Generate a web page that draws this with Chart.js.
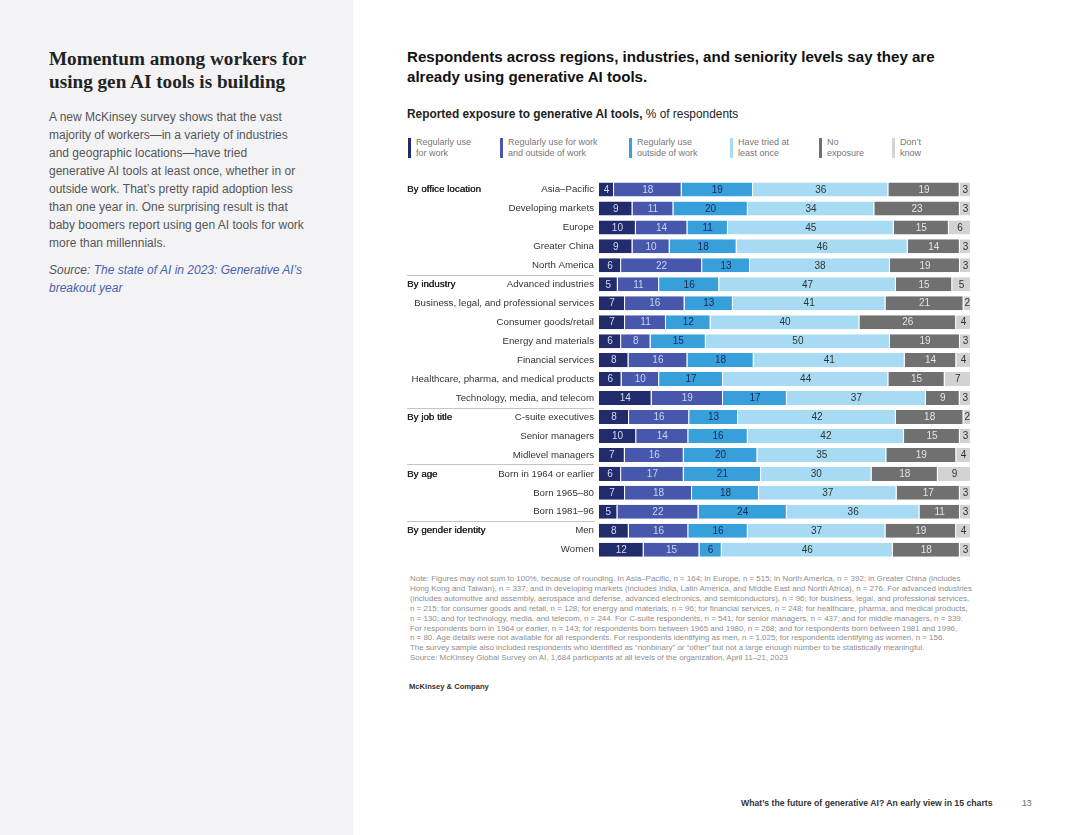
<!DOCTYPE html>
<html>
<head>
<meta charset="utf-8">
<script src="https://cdn.jsdelivr.net/npm/chart.js@4.4.0/dist/chart.umd.min.js"></script>
<style>
  body { margin: 0; width: 1080px; height: 835px; background: #fff; position: relative; overflow: hidden;
         font-family: "Liberation Sans", Arial, sans-serif; color: #222; }
  .abs { position: absolute; white-space: nowrap; }
  #side { position: absolute; left: 0; top: 0; width: 353px; height: 835px; background: #f3f3f5; }
  #side h1 { position: absolute; left: 49px; top: 47px; margin: 0; font-family: "Liberation Serif", serif;
             font-weight: bold; font-size: 19.2px; line-height: 23px; color: #222; white-space: nowrap; }
  #side .body { position: absolute; left: 49px; top: 108px; font-size: 12px; line-height: 18px; color: #555; white-space: nowrap; }
  #side .src { position: absolute; left: 49px; top: 261px; font-size: 12px; line-height: 18px; color: #555; font-style: italic; white-space: nowrap; }
  #side .src span { color: #4a5fae; }
  .title { left: 407px; top: 47px; font-size: 15.1px; font-weight: bold; line-height: 20px; color: #111; }
  .subtitle { left: 407px; top: 107px; font-size: 11.9px; color: #222; }
  .legend { top: 137px; font-size: 9px; line-height: 11px; color: #777; padding-left: 8px; }
  .legend i { position: absolute; left: 0; top: 1px; width: 3px; height: 20px; }
  .note { left: 410px; top: 574px; font-size: 7.95px; line-height: 9.9px; color: #8e8e8e; }
  .brand { left: 409px; top: 682px; font-size: 7.6px; font-weight: bold; color: #333; }
  .foot { left: 741px; top: 798px; font-size: 8.7px; font-weight: bold; color: #333; }
  .page { left: 1022px; top: 798px; font-size: 8.5px; color: #666; }
  #wrap { position: absolute; left: 400px; top: 0px; width: 580px; height: 570px; }
</style>
</head>
<body>
<div id="side">
  <h1>Momentum among workers for<br>using gen AI tools is building</h1>
  <div class="body">A new McKinsey survey shows that the vast<br>majority of workers—in a variety of industries<br>and geographic locations—have tried<br>generative AI tools at least once, whether in or<br>outside work. That’s pretty rapid adoption less<br>than one year in. One surprising result is that<br>baby boomers report using gen AI tools for work<br>more than millennials.</div>
  <div class="src">Source: <span>The state of AI in 2023: Generative AI’s<br>breakout year</span></div>
</div>

<div class="abs title">Respondents across regions, industries, and seniority levels say they are<br>already using generative AI tools.</div>
<div class="abs subtitle"><b>Reported exposure to generative AI tools,</b> % of respondents</div>
<div id="legend"></div>

<div id="wrap"><canvas id="chart"></canvas></div>

<div class="abs note">Note: Figures may not sum to 100%, because of rounding. In Asia–Pacific, n = 164; in Europe, n = 515; in North America, n = 392; in Greater China (includes<br>Hong Kong and Taiwan), n = 337; and in developing markets (includes India, Latin America, and Middle East and North Africa), n = 276. For advanced industries<br>(includes automotive and assembly, aerospace and defense, advanced electronics, and semiconductors), n = 96; for business, legal, and professional services,<br>n = 215; for consumer goods and retail, n = 128; for energy and materials, n = 96; for financial services, n = 248; for healthcare, pharma, and medical products,<br>n = 130; and for technology, media, and telecom, n = 244. For C-suite respondents, n = 541; for senior managers, n = 437; and for middle managers, n = 339.<br>For respondents born in 1964 or earlier, n = 143; for respondents born between 1965 and 1980, n = 268; and for respondents born between 1981 and 1996,<br>n = 80. Age details were not available for all respondents. For respondents identifying as men, n = 1,025; for respondents identifying as women, n = 156.<br>The survey sample also included respondents who identified as “nonbinary” or “other” but not a large enough number to be statistically meaningful.<br>Source: McKinsey Global Survey on AI, 1,684 participants at all levels of the organization, April 11–21, 2023</div>
<div class="abs brand">McKinsey &amp; Company</div>
<div class="abs foot">What’s the future of generative AI? An early view in 15 charts</div>
<div class="abs page">13</div>

<script>
// Chart data
const categories = [
  'Asia–Pacific', 'Developing markets', 'Europe', 'Greater China', 'North America',
  'Advanced industries', 'Business, legal, and professional services', 'Consumer goods/retail',
  'Energy and materials', 'Financial services', 'Healthcare, pharma, and medical products',
  'Technology, media, and telecom', 'C-suite executives', 'Senior managers', 'Midlevel managers',
  'Born in 1964 or earlier', 'Born 1965–80', 'Born 1981–96', 'Men', 'Women'
];
const groupLabels = ['By office location', 'By industry', 'By job title', 'By age', 'By gender identity'];
const groupStarts = [0, 5, 12, 15, 18];

const seriesNames = [
  'Regularly use\nfor work', 'Regularly use for work\nand outside of work', 'Regularly use\noutside of work',
  'Have tried at\nleast once', 'No\nexposure', 'Don’t\nknow'
];
const regularWork    = [4, 9, 10, 9, 6, 5, 7, 7, 6, 8, 6, 14, 8, 10, 7, 6, 7, 5, 8, 12];
const regularBoth    = [18, 11, 14, 10, 22, 11, 16, 11, 8, 16, 10, 19, 16, 14, 16, 17, 18, 22, 16, 15];
const regularOutside = [19, 20, 11, 18, 13, 16, 13, 12, 15, 18, 17, 17, 13, 16, 20, 21, 18, 24, 16, 6];
const triedOnce      = [36, 34, 45, 46, 38, 47, 41, 40, 50, 41, 44, 37, 42, 42, 35, 30, 37, 36, 37, 46];
const noExposure     = [19, 23, 15, 14, 19, 15, 21, 26, 19, 14, 15, 9, 18, 15, 19, 18, 17, 11, 19, 18];
const dontKnow       = [3, 3, 6, 3, 3, 5, 2, 4, 3, 4, 7, 3, 2, 3, 4, 9, 3, 3, 4, 3];

const series = [regularWork, regularBoth, regularOutside, triedOnce, noExposure, dontKnow];
const colors = ['#222b6c', '#4657ac', '#37a0da', '#a6dbf3', '#707070', '#d2d2d2'];
const textColors = ['#d5d9ee', '#cdd3f0', '#1d2755', '#333333', '#e4e4e4', '#333333'];

// Legend
const legendX = [408, 500, 629, 730, 819, 892];
const legendEl = document.getElementById('legend');
seriesNames.forEach((name, i) => {
  const d = document.createElement('div');
  d.className = 'abs legend';
  d.style.left = legendX[i] + 'px';
  d.innerHTML = `<i style="background:${colors[i]}"></i>` + name.replace('\n', '<br>');
  legendEl.appendChild(d);
});

// bars stretch to full width, so scale each row to 100
const rowTotals = categories.map((_, r) => series.reduce((s, arr) => s + arr[r], 0));

const segmentLabels = {
  id: 'segmentLabels',
  afterDatasetsDraw(chart) {
    const ctx = chart.ctx;
    ctx.save();
    ctx.font = '10px "Liberation Sans", Arial, sans-serif';
    ctx.textAlign = 'center';
    ctx.textBaseline = 'middle';
    chart.data.datasets.forEach((ds, i) => {
      chart.getDatasetMeta(i).data.forEach((bar, j) => {
        ctx.fillStyle = textColors[i];
        ctx.fillText(series[i][j], (bar.x + bar.base) / 2, bar.y + 0.5);
      });
    });
    ctx.restore();
  }
};

const groupHeaders = {
  id: 'groupHeaders',
  afterDraw(chart) {
    const ctx = chart.ctx;
    const y = chart.scales.y;
    const step = y.getPixelForValue(1) - y.getPixelForValue(0);
    ctx.save();
    ctx.font = '9.8px "Liberation Sans", Arial, sans-serif';
    ctx.fillStyle = '#222';
    ctx.textAlign = 'left';
    ctx.textBaseline = 'middle';
    groupStarts.forEach((start, k) => {
      const py = y.getPixelForValue(start);
      ctx.fillText(groupLabels[k], 7, py);
      ctx.fillText(groupLabels[k], 7.3, py);
      if (start > 0) {
        const ly = Math.round(py - step / 2) + 0.5;
        ctx.strokeStyle = '#c4c4c4';
        ctx.lineWidth = 1;
        ctx.beginPath();
        ctx.moveTo(7, ly);
        ctx.lineTo(194, ly);
        ctx.stroke();
      }
    });
    ctx.restore();
  }
};

new Chart(document.getElementById('chart'), {
  type: 'bar',
  data: {
    labels: categories,
    datasets: series.map((arr, i) => ({
      label: seriesNames[i],
      data: arr.map((v, r) => v / rowTotals[r] * 100),
      backgroundColor: colors[i],
      borderColor: '#ffffff',
      borderWidth: { left: 0, right: 1, top: 0, bottom: 0 },
      borderSkipped: false,
      barPercentage: 0.74,
      categoryPercentage: 1
    }))
  },
  options: {
    indexAxis: 'y',
    responsive: true,
    maintainAspectRatio: false,
    animation: false,
    layout: { padding: { top: 180, bottom: 8, left: 0, right: 9 } },
    plugins: { legend: { display: false }, tooltip: { enabled: false } },
    scales: {
      x: { stacked: true, min: 0, max: 100, display: false },
      y: {
        stacked: true,
        grid: { display: false, drawTicks: false },
        border: { display: false },
        ticks: {
          color: '#333',
          padding: 5,
          font: { family: '"Liberation Sans", Arial, sans-serif', size: 9.7 }
        },
        afterFit(scale) { scale.width = 199; }
      }
    }
  },
  plugins: [segmentLabels, groupHeaders]
});
</script>
</body>
</html>
